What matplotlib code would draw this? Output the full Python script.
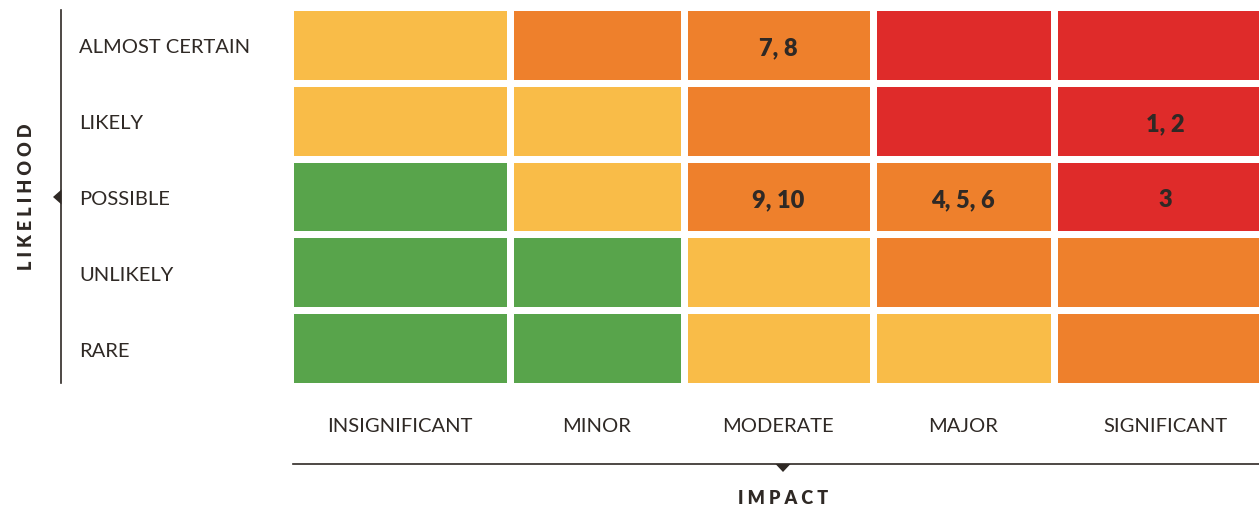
import matplotlib
matplotlib.use("Agg")
import matplotlib.pyplot as plt
import numpy as np
from matplotlib.colors import ListedColormap

# risk matrix: rows top->bottom = likelihood, cols = impact
likelihood = ["ALMOST CERTAIN", "LIKELY", "POSSIBLE", "UNLIKELY", "RARE"]
impact = ["INSIGNIFICANT", "MINOR", "MODERATE", "MAJOR", "SIGNIFICANT"]
# 0 = low (green), 1 = medium (yellow), 2 = high (orange), 3 = extreme (red)
risk_level = [
    [1, 2, 2, 3, 3],
    [1, 1, 2, 3, 3],
    [0, 1, 2, 2, 3],
    [0, 0, 1, 2, 2],
    [0, 0, 1, 1, 2],
]
# risk ids placed in cells: (row, col, label)
risk_ids = [
    (0, 2, "7, 8"),
    (1, 4, "1, 2"),
    (2, 2, "9, 10"),
    (2, 3, "4, 5, 6"),
    (2, 4, "3"),
]

level_colors = ["#58A44B", "#F9BC48", "#EE802C", "#DF2B2A"]
ink = "#2F2925"
# columns are not equal width in the original; the last one runs off the right edge
col_widths = [220, 174, 188.5, 181, 223.5]

W, H = 1259, 511
fig = plt.figure(figsize=(W / 100, H / 100), dpi=100)

# --- grid ---
gx0, gy0, gy1 = 290, 7, 386
gx1 = gx0 + sum(col_widths)
ax = fig.add_axes([gx0 / W, 1 - gy1 / H, (gx1 - gx0) / W, (gy1 - gy0) / H])
xe = np.concatenate([[0], np.cumsum(col_widths)])
ye = np.arange(len(likelihood) + 1)
ax.pcolormesh(xe, ye, np.array(risk_level), cmap=ListedColormap(level_colors),
              vmin=-0.5, vmax=3.5, edgecolor="white", linewidth=4.7)
ax.set_xlim(xe[0], xe[-1])
ax.set_ylim(ye[-1], ye[0])
ax.axis("off")
xc = (xe[:-1] + xe[1:]) / 2
for r, c, lab in risk_ids:
    ax.text(xc[c], r + 0.55, lab, ha="center", va="center", fontsize=17,
            fontweight="heavy", color=ink, family="Lato")

# --- decorations in pixel coords ---
ov = fig.add_axes([0, 0, 1, 1], facecolor="none")
ov.set_xlim(0, W)
ov.set_ylim(H, 0)
ov.axis("off")

# likelihood axis
ov.plot([61, 61], [10, 383], color=ink, lw=1.2)
ov.fill([61.5, 53, 61.5], [189.5, 197, 204.5], color=ink, lw=0)
ov.text(27, 197, "L I K E L I H O O D", rotation=90, ha="center", va="center",
        fontsize=13, fontweight="heavy", color=ink, family="Lato")
row_h = (gy1 - gy0) / len(likelihood)
for i, lab in enumerate(likelihood):
    ov.text(79, gy0 + row_h * (i + 0.5) + 3, lab, ha="left", va="center",
            fontsize=14.5, fontweight="normal", color=ink, family="Lato")

# impact axis
for i, lab in enumerate(impact):
    ov.text(gx0 + xc[i], 426, lab, ha="center", va="center",
            fontsize=14.5, fontweight="normal", color=ink, family="Lato")
ov.plot([293, 1259], [464, 464], color=ink, lw=1.2)
ov.fill([775.5, 790.5, 783], [464, 464, 472], color=ink, lw=0)
ov.text(783, 499, "I M P A C T", ha="center", va="center",
        fontsize=13, fontweight="heavy", color=ink, family="Lato")

fig.savefig("out.png", dpi=100)
